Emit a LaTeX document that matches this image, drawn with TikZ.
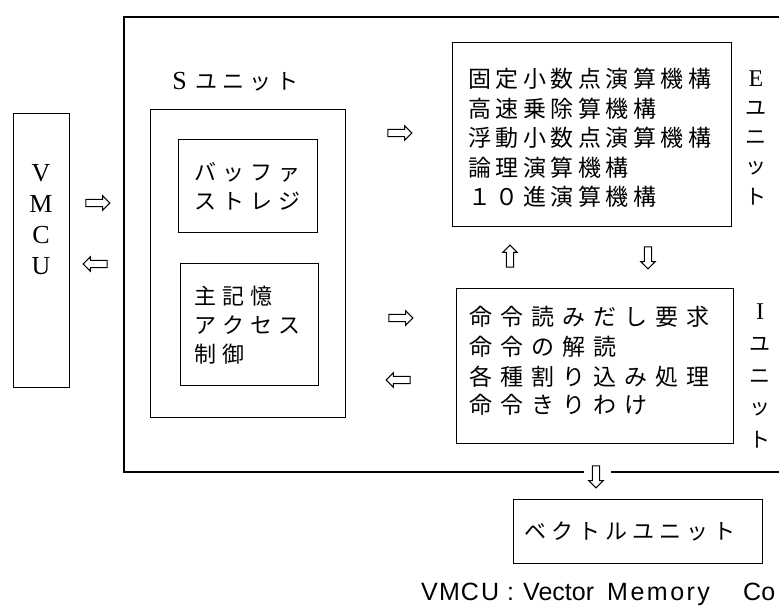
\documentclass[tikz,border=0pt]{standalone}
\usepackage{fontspec}
\setmainfont{Liberation Serif}
\newfontfamily\jpf{Noto Sans CJK JP}
\newfontfamily\lsans{Liberation Sans}
\usetikzlibrary{shapes.arrows}

\newcommand\pitchwd{}
\newcommand\pitched[2]{\renewcommand\pitchwd{#1}\pitchedloop#2\relax}
\def\pitchedloop#1{\ifx\relax#1\else\makebox[\pitchwd][c]{#1}\expandafter\pitchedloop\fi}

\tikzset{
  box/.style={draw, line width=1.1pt, inner sep=0pt, anchor=north west},
  frame/.style={line width=1.1pt},
  jrow/.style={font=\jpf\fontsize{23}{23}\selectfont, inner sep=0pt, anchor=west},
  jsmall/.style={font=\jpf\fontsize{22}{22}\selectfont, inner sep=0pt, anchor=west},
  jlab/.style={font=\jpf\fontsize{21}{21}\selectfont, inner sep=0pt},
  slab/.style={font=\rmfamily\fontsize{24}{24}\selectfont, inner sep=0pt},
  legend/.style={font=\lsans\fontsize{25}{25}\selectfont, inner sep=0pt, anchor=base west},
  blockarrow/.style={draw, line width=1pt, single arrow, single arrow head extend=3.5pt,
     single arrow head indent=0pt, minimum width=14pt, inner sep=3.2pt},
  rarr/.style={blockarrow, minimum height=24pt, shape border rotate=0},
  larr/.style={blockarrow, minimum height=24pt, shape border rotate=180},
  uarr/.style={blockarrow, minimum height=22pt, shape border rotate=90},
  darr/.style={blockarrow, minimum height=22pt, shape border rotate=270},
}

\begin{document}
\begin{tikzpicture}[x=1pt, y=-1pt]
\useasboundingbox (0,0) rectangle (779,606);

% outer frame (open to the right)
\coordinate (oTL) at (124,17);
\coordinate (oTR) at (779,17);
\coordinate (oBL) at (124,472);
\coordinate (oBR) at (779,472);
\node[darr] (vdown) at (596,475) {};
\coordinate (gapL) at (584,472);
\coordinate (gapR) at (611,472);
\draw[frame] (oTR) -- (oTL) -- (oBL) -- (gapL);
\draw[frame] (gapR) -- (oBR);

% VMCU box
\node[box, minimum width=56pt, minimum height=274pt] (vmcu) at (13,113) {};
\node[font=\rmfamily\fontsize{26}{31}\selectfont, align=center, inner sep=0pt] (vmcutext) at (41,220) {V\\M\\C\\U};
\node[rarr] (a1) at (96,203) {};
\node[larr] (a2) at (97,264) {};

% S unit
\node[inner sep=0pt, anchor=west] (slabel) at (166,82)
  {\makebox[27pt][c]{\rmfamily\fontsize{26}{26}\selectfont S}{\jpf\fontsize{22}{22}\selectfont\pitched{27pt}{ユニット}}};
\node[box, minimum width=195pt, minimum height=308pt] (sbox) at (150,109) {};
\node[box, minimum width=139pt, minimum height=93pt] (buf) at (178,139) {};
\node[jsmall] (buf1) at (191,172) {\pitched{28pt}{バッファ}};
\node[jsmall] (buf2) at (191,201) {\pitched{28pt}{ストレジ}};
\node[box, minimum width=138pt, minimum height=122pt] (mem) at (180,263) {};
\node[jsmall] (mem1) at (191,296) {\pitched{28pt}{主記憶}};
\node[jsmall] (mem2) at (191,325) {\pitched{28pt}{アクセス}};
\node[jsmall] (mem3) at (191,354) {\pitched{28pt}{制御}};

% arrows S <-> E / I
\node[rarr] (a3) at (398,133) {};
\node[rarr] (a4) at (399,318) {};
\node[larr] (a5) at (400,380) {};

% E unit
\node[box, minimum width=279pt, minimum height=184pt] (ebox) at (452,42) {};
\node[jrow] (e1) at (466,79) {\pitched{27.5pt}{固定小数点演算機構}};
\node[jrow] (e2) at (466,108.5) {\pitched{27.5pt}{高速乗除算機構}};
\node[jrow] (e3) at (466,138) {\pitched{27.5pt}{浮動小数点演算機構}};
\node[jrow] (e4) at (466,167.5) {\pitched{27.5pt}{論理演算機構}};
\node[jrow] (e5) at (466,197) {\pitched{27.5pt}{１０進演算機構}};
\node[slab] (el1) at (756,79) {E};
\node[jlab] (el2) at (756,108) {ユ};
\node[jlab] (el3) at (756,138) {ニ};
\node[jlab] (el4) at (756,168) {ッ};
\node[jlab] (el5) at (756,197) {ト};

% E <-> I arrows
\node[uarr] (a6) at (510,258) {};
\node[darr] (a7) at (648,256) {};

% I unit
\node[box, minimum width=277pt, minimum height=155pt] (ibox) at (456,288) {};
\node[jrow] (i1) at (465,317) {\pitched{31pt}{命令読みだし要求}};
\node[jrow] (i2) at (465,347) {\pitched{31pt}{命令の解読}};
\node[jrow] (i3) at (465,377) {\pitched{31pt}{各種割り込み処理}};
\node[jrow] (i4) at (465,405) {\pitched{31pt}{命令きりわけ}};
\node[slab] (il1) at (760,312) {I};
\node[jlab] (il2) at (760,344) {ユ};
\node[jlab] (il3) at (760,377) {ニ};
\node[jlab] (il4) at (760,409) {ッ};
\node[jlab] (il5) at (760,440) {ト};

% vector unit
\node[box, minimum width=249pt, minimum height=64pt] (vec) at (513,499) {};
\node[font=\jpf\fontsize{22}{22}\selectfont, inner sep=0pt] (vectext) at (630,531) {\pitched{27pt}{ベクトルユニット}};

% legend
\node[legend] (leg1) at (419,600) {\pitched{20.3pt}{VMCU:}};
\node[legend] (leg2) at (523,600) {Vector};
\node[legend] (leg3) at (607,600) {\addfontfeature{LetterSpace=10}Memory};
\node[legend] (leg4) at (743,600) {Co};
\end{tikzpicture}
\end{document}
